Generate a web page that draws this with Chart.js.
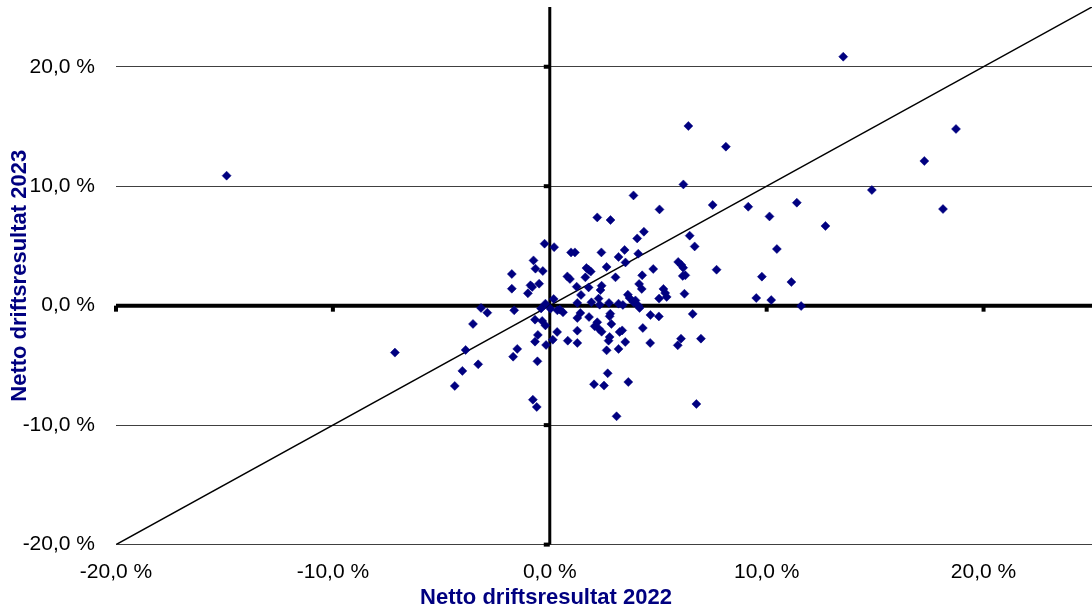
<!DOCTYPE html>
<html>
<head>
<meta charset="utf-8">
<title>Netto driftsresultat 2022 / 2023</title>
<script src="https://cdn.jsdelivr.net/npm/chart.js@4.4.1/dist/chart.umd.min.js"></script>
<style>
  html, body { margin: 0; padding: 0; background: #fff; overflow: hidden; }
  #wrap { width: 1092px; height: 613px; }
</style>
</head>
<body>
<div id="wrap"><canvas id="scatterChart"></canvas></div>
<script>
// Netto driftsresultat (% av driftsinntekter), 2022 mot 2023
const x2022 = [
  -0.24, 0.20, -0.75, -0.66, -0.32, -1.75, -1.75, -0.89, -0.81, -0.49,
  -1.01, 0.18, -0.20, -3.17, -2.88, -1.64, -0.40, 0.03, 0.35, -0.68,
  -0.35, -0.20, 0.34, -3.54, -0.55, -0.68, 0.14, -0.17, -7.14, -3.88,
  -1.50, -1.69, -3.30, -4.03, -0.57, -4.38, -0.78, -0.60, -14.90, 6.16,
  3.86, 5.06, 2.19, 2.80, 4.34, 4.03, 6.45, 6.68, 0.98, 1.16,
  2.38, 3.45, 3.17, 4.08, 3.49, 5.92, 6.07, 6.15, 4.77, 2.62,
  1.69, 1.79, 1.89, 0.81, 0.93, 1.64, 3.03, 4.26, 6.13, 6.25,
  1.24, 1.79, 2.39, 2.34, 4.12, 4.24, 5.24, 5.32, 5.04, 5.39,
  6.21, 1.44, 3.60, 2.25, 3.68, 3.95, 1.27, 1.92, 2.30, 2.73,
  3.17, 3.37, 3.86, 4.09, 4.14, 0.46, 0.61, 1.41, 2.79, 4.64,
  5.03, 6.59, 1.81, 2.76, 1.27, 2.19, 2.07, 2.27, 2.39, 2.84,
  3.22, 3.34, 2.76, 2.71, 3.48, 3.17, 2.62, 4.29, 4.63, 5.90,
  6.05, 6.97, 1.27, 0.83, 1.27, 2.67, 2.04, 2.50, 3.62, 6.76,
  3.08, 7.51, 9.15, 10.13, 11.39, 12.71, 10.47, 7.69, 9.78, 11.14,
  9.52, 10.21, 11.59, 13.53, 6.39, 8.12, 18.73, 17.27, 14.85, 18.13
];
const y2023 = [
  5.19, 4.90, 3.79, 3.10, 2.90, 2.65, 1.42, 1.70, 1.56, 1.84,
  1.03, 0.56, 0.17, -0.19, -0.59, -0.39, -0.23, -0.25, -0.39, -1.17,
  -1.28, -1.65, -2.20, -1.53, -2.45, -3.01, -2.85, -3.29, -3.93, -3.71,
  -3.62, -4.27, -4.91, -5.46, -4.66, -6.72, -7.87, -8.48, 10.88, 10.15,
  9.23, 8.06, 7.39, 7.17, 6.19, 5.63, 5.86, 4.96, 4.46, 4.46,
  4.46, 4.66, 4.08, 4.35, 3.62, 3.66, 3.41, 3.18, 3.07, 3.24,
  3.15, 3.01, 2.85, 2.45, 2.23, 2.37, 2.37, 2.54, 2.49, 2.54,
  1.59, 1.53, 1.67, 1.31, 1.82, 1.40, 1.40, 1.06, 0.59, 0.73,
  1.00, 0.90, 0.92, 0.59, 0.64, 0.44, 0.23, 0.28, 0.08, 0.23,
  0.17, 0.06, 0.28, 0.00, -0.19, -0.33, -0.56, -0.61, -0.67, -0.78,
  -0.90, -0.69, -0.95, -0.89, -1.03, -1.39, -1.73, -1.95, -2.18, -1.53,
  -2.20, -2.07, -2.62, -2.93, -3.04, -3.62, -3.74, -1.87, -3.12, -3.32,
  -2.76, -2.76, -2.09, -2.93, -3.12, -5.66, -6.58, -6.69, -6.39, -8.23,
  -9.26, 8.43, 8.28, 7.47, 8.62, 6.67, 4.74, 3.01, 2.43, 1.98,
  0.64, 0.47, -0.03, 20.84, 15.04, 13.31, 14.79, 12.11, 9.68, 8.09
];

// Linja y = x over hele aksen
const diagonal = [-20, 25];

const axisMin = -20;
const axisMax = 25;
const tickStep = 10;

const NAVY = "#000080";
const FONT = "'Liberation Sans', Arial, sans-serif";

function formatPercent(value) {
  return value.toFixed(1).replace(".", ",") + " %";
}

// Thick axes through zero, with small tick marks
const zeroAxes = {
  id: "zeroAxes",
  beforeDatasetsDraw(chart) {
    const { ctx, chartArea, scales } = chart;
    const x0 = scales.x.getPixelForValue(0);
    const y0 = scales.y.getPixelForValue(0);
    ctx.save();
    ctx.strokeStyle = "#000";
    ctx.fillStyle = "#000";

    ctx.lineWidth = 3;
    ctx.beginPath();
    ctx.moveTo(x0, chartArea.top);
    ctx.lineTo(x0, chartArea.bottom);
    ctx.stroke();

    ctx.lineWidth = 4;
    ctx.beginPath();
    ctx.moveTo(chartArea.left, y0);
    ctx.lineTo(chartArea.right, y0);
    ctx.stroke();

    scales.x.ticks.forEach(function (t) {
      if (t.value === 0) return;
      const px = scales.x.getPixelForValue(t.value);
      ctx.fillRect(px - 2, y0, 4, 6);
    });
    scales.y.ticks.forEach(function (t) {
      if (t.value === 0) return;
      const py = scales.y.getPixelForValue(t.value);
      ctx.fillRect(x0 - 6, py - 2, 6, 4);
    });
    ctx.restore();
  },
};

const points = x2022.map(function (x, i) {
  return { x: x, y: y2023[i] };
});

const ctx = document.getElementById("scatterChart").getContext("2d");
const scatterChart = new Chart(ctx, {
  type: "scatter",
  data: {
    datasets: [
      {
        label: "Kommuner",
        data: points,
        pointStyle: "rectRot",
        pointRadius: 4.5,
        backgroundColor: NAVY,
        borderColor: NAVY,
        borderWidth: 0.5,
      },
      {
        label: "y = x",
        type: "line",
        data: diagonal.map(function (v) { return { x: v, y: v }; }),
        borderColor: "#000",
        borderWidth: 1.5,
        pointRadius: 0,
        fill: false,
      },
    ],
  },
  options: {
    responsive: true,
    maintainAspectRatio: false,
    animation: false,
    layout: {
      autoPadding: false,
      padding: { top: 7, right: 0, bottom: 0, left: 0 },
    },
    plugins: {
      legend: { display: false },
      tooltip: { enabled: false },
      title: {
        display: true,
        position: "bottom",
        text: "Netto driftsresultat 2022",
        color: NAVY,
        font: { family: FONT, size: 22, weight: "bold" },
        padding: { top: 0, bottom: 2 },
      },
    },
    scales: {
      x: {
        type: "linear",
        min: axisMin,
        max: axisMax,
        grid: { display: false, drawTicks: false },
        border: { display: false },
        ticks: {
          stepSize: tickStep,
          includeBounds: false,
          padding: 15,
          color: "#000",
          font: { family: FONT, size: 21 },
          callback: formatPercent,
        },
        afterFit: function (scale) {
          scale.height = 40;
          scale.paddingLeft = 0;
          scale.paddingRight = 0;
        },
      },
      y: {
        type: "linear",
        min: axisMin,
        max: axisMax,
        grid: {
          drawTicks: false,
          lineWidth: 1,
          color: function (c) {
            return c.tick && c.tick.value === 0 ? "rgba(0,0,0,0)" : "#404040";
          },
        },
        border: { display: false },
        ticks: {
          stepSize: tickStep,
          includeBounds: false,
          padding: 21,
          color: "#000",
          font: { family: FONT, size: 21 },
          callback: formatPercent,
        },
        title: {
          display: true,
          text: "Netto driftsresultat 2023",
          color: NAVY,
          font: { family: FONT, size: 22, weight: "bold" },
          padding: { top: 7, bottom: 0 },
        },
        afterFit: function (scale) {
          scale.width = 116;
          scale.paddingTop = 0;
          scale.paddingBottom = 0;
        },
      },
    },
  },
  plugins: [zeroAxes],
});
</script>
</body>
</html>
